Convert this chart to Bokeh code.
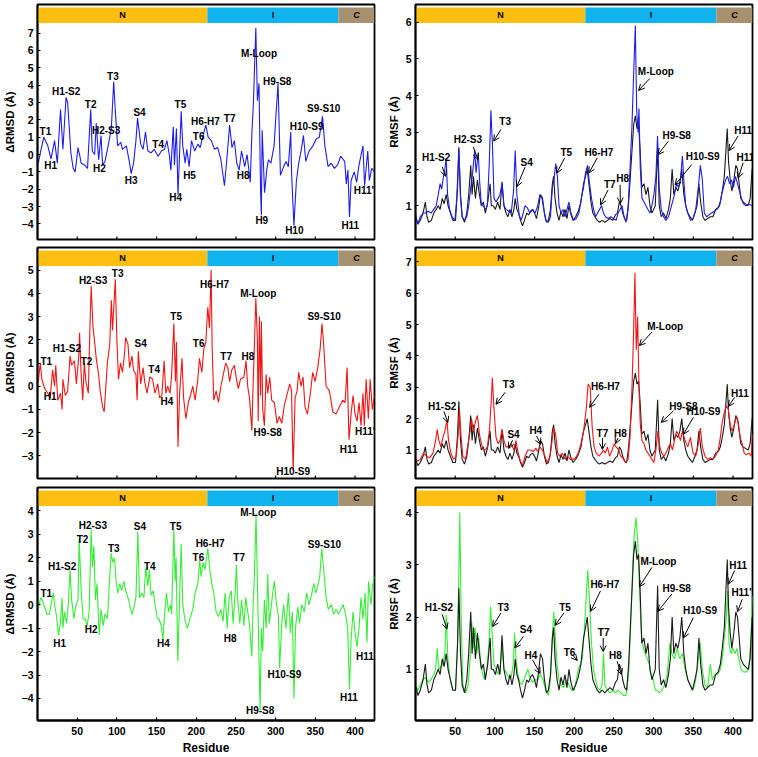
from bokeh.plotting import figure
from bokeh.layouts import column, row
from bokeh.models import Range1d, FixedTicker, Arrow, OpenHead, ColumnDataSource
from bokeh.embed import file_html
from bokeh.resources import INLINE
from bokeh.core.properties import value

FONT = "Liberation Sans"

# ---------------- data ----------------
x_ticks = [50, 100, 150, 200, 250, 300, 350, 400]
residue_range = [0, 424.5]

domain_names = ["N", "I", "C"]
domain_start = [0, 214, 379]
domain_end = [214, 379, 424.5]
domain_colors = ["#FDBE12", "#10B3EE", "#A8916F"]

drmsd_blue = [(1,-0.5),(4,0.2),(8,1.0),(13,0.5),(17,-0.25),(21.5,0.8),(25,-0.5),(29,2.6),(32,0.3),(36,3.3),(38,3.0),(42,0.1),(45,-0.8),(47.5,-1.0),(51,0.4),(53,0.0),(55,-0.5),(59,-0.6),(63,-0.8),(67,2.6),(69,0.2),(72,0.0),(74,1.8),(77,-0.3),(80,1.1),(82,-0.6),(85,-0.4),(89,0.5),(93,1.5),(96,4.2),(98,2.5),(101,0.5),(105,0.7),(107,0.3),(112,0.5),(116,-0.5),(118,-1.1),(121,-0.5),(124,0.8),(126,2.1),(130,0.6),(133,0.3),(136,1.3),(139,0.2),(143,0.1),(147,0.3),(152,-0.1),(156,0.2),(160,0.3),(163,0.8),(166,0.0),(168,-0.9),(171,1.6),(172.5,-0.6),(175,1.5),(177,-2.3),(178.5,-0.5),(181,2.5),(183,0.5),(186,-0.5),(188,0.3),(191,-0.7),(194,0.8),(198,0.2),(202,0.6),(205,0.4),(208,1.0),(212,1.7),(215,1.0),(219,0.8),(223,0.3),(227,0.4),(231,-0.3),(235.5,-1.8),(239,0.0),(242,1.7),(245,0.4),(248,0.8),(251,-0.5),(254,-0.9),(257,0.2),(261,-0.7),(264,0.0),(268,-1.6),(270,1.2),(272,3.0),(275,7.3),(277,3.1),(279,4.1),(281,-2.1),(282,-3.5),(283,1.4),(286,-2.2),(289,-0.8),(291,-0.3),(294,-0.5),(298,0.5),(300,2.0),(303,4.1),(306,-1.2),(310,-0.7),(313,-0.4),(316,-0.7),(319,1.3),(320,-1.0),(323,-4.1),(326,-1.6),(329,-0.5),(332,0.2),(335,1.1),(338,-0.4),(342,0.2),(347,0.5),(351,0.9),(355,1.0),(359,2.2),(362,0.5),(366,-0.7),(370,-0.5),(374,-0.8),(378,-0.6),(382,-0.1),(387,-0.4),(389,-1.7),(391,-0.9),(393,-3.6),(395,-1.5),(399,-1.0),(402,-1.6),(405,-0.6),(410,0.5),(412,-1.8),(416,0.2),(418,-1.5),(421,-0.8),(424.5,-1.0)]

drmsd_red = [(1,0.2),(3.5,1.0),(5.5,0.3),(9,-0.1),(13,-0.3),(16,-0.5),(19,0.7),(21.5,0.0),(23,0.9),(25.5,-0.6),(29,-0.3),(31,-1.0),(32,0.3),(35,-0.4),(38,-0.2),(41,1.3),(43,0.9),(46.5,1.1),(49,0.1),(52,1.3),(53,2.3),(55,0.5),(57,-0.6),(59,1.0),(61,0.2),(64,-0.3),(66,2.5),(67.6,4.3),(70,2.5),(72,1.9),(74,1.2),(77,0.5),(79,-0.2),(82,-0.9),(84,-1.1),(85,-0.6),(88,1.0),(91,1.8),(93,3.7),(94.5,2.4),(98,4.6),(100,2.0),(102,0.3),(104.5,1.0),(107,0.6),(109.6,1.4),(111,2.1),(114,1.8),(116,0.8),(119,1.3),(121,0.7),(124,0.5),(125.5,-0.6),(127,1.5),(130,0.1),(133,0.8),(135,0.2),(138,-0.3),(141.5,0.4),(145,0.3),(148,-0.3),(151.5,0.1),(153.7,-0.5),(156.6,-0.4),(159.5,1.1),(161.6,-0.3),(164,0.0),(167,-0.3),(169,0.5),(171.7,2.7),(173.8,0.2),(175,1.9),(177,-2.6),(179,-0.3),(182,1.2),(184,-0.5),(187,-1.4),(190,-0.7),(192.7,-0.4),(195.6,0.0),(198.5,-0.6),(202,0.3),(204,1.2),(207,0.6),(209.5,1.6),(212,1.9),(214.5,3.4),(216.6,2.5),(218.7,5.0),(220,1.7),(222,-0.6),(225,-0.2),(228,-0.7),(231,0.0),(234.6,0.6),(237,1.0),(239.7,0.8),(242,0.2),(244.7,0.7),(248,0.9),(250.6,0.3),(253,-0.1),(255.6,0.3),(260,0.4),(262.7,1.1),(264.8,0.0),(267,-0.5),(270,-1.9),(271.6,0.1),(273,1.5),(275,3.8),(277,2.0),(278,-1.5),(279.5,3.0),(281,-0.4),(282,2.8),(283.7,-1.0),(285.8,-1.7),(288,0.5),(290,-0.3),(292.5,0.4),(295,-0.6),(298.4,-0.7),(301.8,-1.6),(304.7,-1.3),(307.7,-1.6),(311,-0.8),(314,-0.4),(317.7,0.1),(320,-0.2),(322,-3.6),(324.5,-0.5),(327,-0.2),(329,0.6),(332,0.0),(334.5,0.4),(337,-0.9),(340,-1.2),(343.7,-0.3),(346.7,0.6),(349.6,0.2),(353,0.8),(356,1.6),(358.4,2.7),(360.5,1.8),(363.5,0.0),(367.7,-0.2),(372,-1.1),(376,-1.2),(380,-0.9),(384.5,-0.6),(387.4,-0.7),(390,0.8),(392.4,-2.3),(395,-1.2),(397.5,-0.4),(400,-1.2),(402.5,-1.5),(405,-0.7),(407.5,-1.7),(410,-0.3),(411.7,-1.7),(414,0.3),(416.8,-1.4),(419,0.3),(421.8,-1.0),(424.5,-0.4)]

drmsd_green = [(1,-0.2),(4,0.3),(6,0.2),(9,-0.1),(12,-0.4),(15,-0.4),(17,0.0),(20,0.5),(21.5,0.0),(24,-0.5),(26.5,-1.3),(29,-0.7),(31,0.3),(32,-1.0),(34,-0.3),(36.6,-0.8),(39,0.1),(41,1.5),(43,0.2),(46,-0.6),(48,-0.1),(51,0.2),(52.5,2.8),(55,0.6),(57.5,-0.6),(60,-0.6),(62.6,-0.9),(65,-0.3),(67.6,3.2),(69.3,1.6),(71,2.5),(73,0.2),(75,0.9),(77.7,-1.3),(80,-0.2),(82.7,-0.9),(85,-0.4),(88,-0.6),(90,0.6),(92.8,2.2),(95,1.8),(97,2.0),(99,1.0),(101,0.5),(103.7,0.9),(106,0.6),(108.7,1.0),(111,0.6),(114,0.3),(116,0.0),(119,-0.4),(121,-0.2),(124,0.3),(126.4,3.1),(128.5,0.3),(131.4,0.5),(134,0.3),(136.4,1.6),(139,0.8),(141,1.5),(143,0.4),(145.7,0.6),(148,0.0),(151,-0.6),(153,-0.6),(156,-0.9),(158,-1.5),(160,-0.4),(162.5,0.5),(165,-0.3),(167.5,0.0),(169,-0.4),(171.7,3.2),(173.4,1.0),(174.6,2.0),(176.7,-2.4),(178.8,0.0),(181,2.6),(183,0.0),(186,-0.7),(189,-1.0),(192.7,-0.5),(195.6,-0.2),(198.5,0.5),(202,0.9),(204.4,1.9),(206,1.2),(208.6,1.8),(211,1.5),(214.5,2.4),(217,1.5),(219.5,0.9),(222,0.5),(225,-0.3),(228,-0.5),(231,-0.2),(233.8,-0.7),(236.3,0.5),(239,-1.0),(241.4,0.3),(244,0.6),(246.4,-0.8),(249,0.5),(250.6,1.7),(252,0.3),(254.8,-0.8),(257,0.2),(260,-0.9),(262.3,0.3),(264.8,-0.3),(267,-0.8),(270,-2.2),(271.6,0.0),(273,1.0),(275.3,3.8),(277,1.0),(278.7,-1.8),(280.4,-4.5),(282,-1.0),(283.7,-2.0),(285.8,0.2),(288,-1.0),(290,1.3),(292,-0.8),(294,-0.2),(296.3,0.5),(298.4,1.0),(301,0.0),(303.5,-0.5),(305,-2.7),(307.7,-0.8),(310,0.0),(313,-1.0),(316,0.5),(318.6,-1.2),(321,-0.3),(323,-4.0),(325,-1.0),(327.8,-0.1),(330,-0.8),(333,0.0),(336,-0.3),(339,0.5),(342,0.0),(345,0.4),(348,0.9),(350.5,0.5),(353,0.8),(355.5,1.2),(358,2.4),(360.5,1.5),(363.5,0.3),(366.4,-0.2),(370,0.0),(373,-0.4),(376,-0.2),(379,-0.4),(382,-0.2),(385,0.0),(388,-0.4),(390.7,-1.0),(393,-3.6),(395,-1.5),(397.5,-0.3),(400,-1.2),(402.5,-1.8),(405,-1.0),(407.5,0.3),(410,-0.6),(412.6,0.5),(415,-1.6),(417,1.0),(420,0.0),(422,0.8),(424.5,1.2)]

rmsf_ref = [(0,0.7),(3,0.5),(6,0.6),(9.5,0.8),(12.4,1.1),(14.5,0.7),(16.6,0.55),(20,0.6),(23,0.8),(26,0.9),(28.7,1.0),(31,0.9),(33.7,1.2),(36,1.05),(38.7,1.3),(41,1.0),(44,0.8),(47,0.6),(50.4,0.6),(53,1.5),(54.6,2.55),(56.7,1.3),(58.8,0.7),(61.7,0.55),(64.6,0.8),(67,1.3),(69.6,2.1),(71.3,1.3),(73,1.8),(75.5,1.2),(78,1.7),(80.5,1.3),(83,1.0),(85.5,1.1),(88,0.8),(91,1.1),(94,1.6),(95.5,1.0),(98,1.0),(100.6,0.9),(103.5,1.1),(106.4,0.9),(109,1.65),(111.4,1.0),(114,0.8),(116.4,0.7),(119,0.9),(121.5,0.7),(124,0.9),(125.6,1.2),(127.7,0.9),(129.8,0.8),(132.3,0.6),(134.8,0.45),(137.3,0.6),(140,0.8),(142.4,0.75),(144.9,0.85),(147.4,0.9),(150,0.8),(152.4,0.65),(155,0.95),(157.4,1.3),(160,1.2),(162.4,0.8),(165,0.55),(167.4,0.6),(170,0.9),(172.4,1.6),(174,1.8),(175.8,1.2),(178.3,0.8),(180.8,0.6),(183.3,0.85),(185.8,0.7),(188.3,0.9),(190.8,0.65),(193.3,1.0),(195.8,0.75),(198.4,0.6),(201.7,0.7),(205,0.85),(208.4,1.1),(211.7,1.6),(214.2,1.8),(216.3,2.0),(218.4,1.6),(221,1.1),(223.4,0.8),(226,0.7),(229,0.6),(231.8,0.55),(235,0.6),(238.5,0.55),(241.8,0.6),(245,0.65),(248.5,0.6),(251.8,0.75),(254.3,0.8),(256.8,1.1),(259,1.0),(261,0.8),(263.5,0.65),(266,0.6),(268.5,1.1),(270.6,1.8),(272.7,2.5),(274.8,3.2),(276.9,3.45),(279,3.1),(281,3.2),(283,2.5),(285,1.5),(287.8,1.6),(290.3,1.3),(292.8,1.5),(295.3,1.0),(297.8,0.8),(299.9,0.9),(302,1.0),(305,2.6),(307,1.0),(309.5,0.7),(312.4,0.8),(315.4,0.65),(318.7,0.9),(321,1.2),(323.3,2.0),(325.4,1.3),(327.9,1.5),(330.4,1.4),(333,1.6),(335.4,2.0),(338,1.3),(340.4,1.0),(343,0.8),(345.9,0.7),(348.8,0.6),(352,0.8),(354.6,1.0),(357,1.6),(359.2,1.1),(362,0.7),(364.7,0.6),(368,0.65),(371.4,0.7),(374.7,0.7),(378,0.9),(381.4,0.95),(384,1.1),(386.4,1.4),(389,1.8),(391,2.5),(392.7,3.1),(394.3,2.2),(396.4,1.7),(398.5,1.4),(401,1.7),(403.5,2.1),(405.6,2.0),(407.7,1.6),(409.8,1.2),(412.7,1.1),(415.6,1.05),(419,1.0),(421.5,1.2),(424,2.0)]

rmsf_blue = [(0,0.75),(3,0.5),(6,0.7),(9.5,0.8),(12.8,0.8),(16,0.85),(19.5,0.8),(23,0.9),(26,1.0),(28.7,1.3),(31,1.6),(33,1.45),(34.5,1.7),(37,2.0),(38.7,2.3),(40.4,1.3),(43,0.9),(46,0.7),(49.6,0.6),(52,1.2),(54.6,2.6),(56.7,1.2),(58.8,0.7),(61.7,0.6),(64.6,0.7),(67,1.0),(69.6,1.5),(72,1.9),(74.6,2.5),(76.3,1.9),(79,2.45),(81,1.6),(83,1.0),(85.5,1.0),(88,0.9),(90.5,1.0),(93,2.2),(95,3.6),(97,2.6),(98.9,1.2),(101.4,1.1),(104,1.2),(106.4,1.3),(109,1.6),(111.4,1.0),(114,0.9),(117.3,0.85),(120.6,0.8),(123.5,1.4),(125.6,2.5),(127.7,1.3),(130.6,0.75),(133,0.6),(135.7,0.8),(138,1.0),(140.7,0.95),(144,0.8),(147.4,0.9),(150.7,0.8),(154,1.0),(156.6,1.3),(159,1.25),(161.6,0.9),(164,0.6),(167.4,0.55),(170,0.7),(172.4,1.5),(174.5,1.7),(176.6,2.15),(178.7,1.8),(180.8,1.0),(183.3,0.8),(185.8,0.9),(188.3,0.7),(190.8,0.9),(193.3,1.1),(195.8,0.8),(199.2,0.6),(202.5,0.65),(205.9,0.8),(208.8,1.2),(211.7,1.5),(214.2,1.9),(216.7,2.1),(219.2,1.6),(221.7,1.2),(224.3,0.9),(226.8,0.7),(229.3,0.8),(231.8,0.9),(234.3,1.0),(236.8,0.8),(239.3,0.7),(242.6,0.65),(246,0.7),(249.3,0.65),(252.7,0.6),(255.2,0.8),(257.7,0.9),(260.2,1.0),(262.7,0.7),(265.2,0.55),(267.7,0.9),(270.2,2.0),(272.7,3.2),(274.8,4.6),(276.9,5.9),(278.6,3.6),(280.3,3.0),(281.5,3.65),(283.2,2.0),(285.3,1.2),(287.8,1.1),(290.3,1.0),(292.8,0.9),(295.3,0.8),(297.8,1.0),(300.3,1.3),(302.8,1.8),(304.9,2.9),(307,1.5),(309.5,0.9),(312.4,0.7),(315.4,0.6),(318.7,0.7),(321.2,0.9),(323.7,1.1),(326.2,1.3),(328.7,1.6),(331.2,1.5),(333.7,1.7),(336.2,2.35),(338.3,1.6),(340.4,1.0),(343,0.8),(346.3,0.6),(349.6,0.65),(353,0.9),(356.3,1.5),(358.8,2.1),(361.3,1.7),(363.8,0.8),(366.7,0.7),(369.7,0.75),(373,0.8),(376.4,0.85),(379.7,0.9),(383,1.0),(385.6,1.3),(388,1.5),(390.6,1.7),(393,1.8),(395.6,1.6),(398,1.7),(400.6,1.5),(403,1.8),(405.6,1.6),(408,1.4),(410.6,1.2),(413,1.05),(416.5,1.0),(419.8,1.05),(424,1.0)]

rmsf_red = [(0,0.7),(3,0.65),(6,0.7),(10.3,0.9),(13.6,0.8),(17.8,0.75),(22,0.9),(25.3,1.3),(27.4,1.65),(29.5,1.3),(32,1.1),(34.5,1.4),(37,1.6),(39.6,1.95),(41.6,1.3),(44.6,0.9),(47.9,0.7),(51.3,0.8),(53.8,1.5),(55.4,2.3),(57.5,1.4),(59.6,0.8),(63,0.7),(66.3,1.2),(68.8,1.6),(70.5,2.0),(73,1.6),(75.5,1.9),(78,2.1),(80.5,1.5),(83,1.2),(85.5,1.0),(88,1.0),(90.5,1.1),(93,1.6),(95.5,2.6),(96.8,3.3),(98.9,2.3),(101.4,1.4),(104,1.2),(106.4,1.3),(109,1.65),(111.4,1.3),(114,1.1),(117.3,1.1),(120.6,1.2),(124,1.0),(126.5,1.3),(129,0.95),(131.5,0.7),(134.8,0.5),(138,0.8),(141.5,1.0),(144.9,1.0),(148.2,0.95),(151.5,1.05),(154,0.95),(156.6,1.1),(160,1.0),(163,0.8),(165.8,0.6),(169,0.75),(171.6,1.2),(174,1.7),(176.6,1.5),(179,0.9),(181.6,0.8),(185,0.9),(188.3,0.7),(191.7,0.8),(195,0.7),(198.4,0.7),(201.7,0.75),(205,0.9),(208.4,1.2),(211.7,1.6),(215,2.3),(217.5,3.1),(220,3.0),(222.6,1.7),(225,1.1),(227.6,0.9),(231,0.8),(234.3,0.9),(236.8,1.0),(239.3,0.9),(241.8,1.1),(244.4,0.8),(247.7,1.0),(250.2,1.2),(252.7,1.1),(256,1.0),(258.5,0.8),(261,0.75),(264.4,0.6),(267.7,0.7),(270.2,1.4),(272.7,3.0),(274.8,4.8),(276.4,6.65),(278.1,4.2),(279.8,5.25),(281.5,3.0),(283.2,1.8),(285.3,1.3),(287.8,1.2),(290.3,1.0),(292.8,0.9),(295.3,0.8),(297.8,0.7),(300.3,0.6),(302.8,1.0),(305.3,1.6),(307.8,1.1),(310.3,0.9),(312.8,0.8),(315.4,0.9),(318.7,1.1),(321.2,1.2),(323.7,1.0),(326.2,1.3),(328.7,1.6),(331.2,1.5),(333.7,1.3),(336.2,1.6),(339.6,1.3),(343,1.1),(346.3,1.4),(349.6,0.9),(353,0.8),(356.3,1.2),(358.8,1.7),(361.3,1.1),(364.7,0.8),(368,0.7),(371.4,0.75),(374.7,0.7),(378,0.8),(381.4,1.0),(384,1.4),(386.4,1.9),(389,2.2),(391.5,2.4),(394,2.3),(396.4,1.8),(399,1.6),(401.5,1.8),(404,2.05),(406.4,1.9),(409,1.4),(411.5,1.2),(414,0.9),(416.5,0.85),(419.8,0.9),(423,0.8),(424.5,1.5)]

rmsf_green = [(0,0.7),(3,0.6),(6,0.7),(9.5,0.8),(12.8,0.85),(16,0.75),(19.5,0.8),(23,0.9),(25.3,1.0),(27.4,1.4),(29.5,1.0),(32,1.05),(34.5,1.1),(37,1.3),(38.7,2.05),(40.8,1.2),(43.7,0.8),(47,0.6),(50.4,0.6),(53,1.5),(54.6,2.8),(55.8,4.0),(57.5,2.0),(59.6,0.7),(63,0.55),(66.3,0.7),(68.8,1.2),(70.9,1.9),(73,1.4),(75,1.8),(77.2,1.3),(79.7,1.6),(82.2,1.1),(84.7,0.9),(87.2,0.8),(89.7,1.0),(92.2,1.4),(94.7,2.2),(96.4,1.7),(98.9,1.1),(101.4,1.0),(104,0.9),(106.4,1.0),(109,1.4),(111.4,1.0),(114,0.95),(117.3,0.85),(120.6,0.85),(123.1,1.1),(124.8,1.7),(126.5,1.2),(129,0.9),(131.5,0.75),(134,0.7),(136.5,0.8),(139,0.9),(141.5,1.0),(144,0.85),(147.4,0.75),(150.7,0.8),(154,0.8),(157.4,0.9),(160.7,0.8),(164,0.6),(167.4,0.5),(170,0.8),(172,1.5),(174.1,2.1),(176.2,1.6),(178.3,1.1),(180.8,0.8),(183.3,0.7),(186.6,0.65),(190,0.8),(193.3,0.7),(196.7,0.6),(200,0.6),(202.5,0.8),(205,1.0),(207.5,1.1),(210,1.2),(212.5,1.7),(215,2.4),(217,2.9),(219.2,2.3),(221.7,1.5),(224.3,1.0),(226.8,0.8),(229.3,0.65),(232.6,0.6),(235,0.7),(236.9,1.3),(238.5,0.7),(241.8,0.6),(245,0.55),(248.5,0.6),(251.8,0.55),(255.2,0.6),(258.5,0.55),(261.8,0.5),(265.2,0.5),(268.5,0.9),(271,1.8),(273.6,3.0),(275.7,3.6),(277.8,3.9),(279.8,3.5),(282,2.6),(284.4,1.7),(287,1.4),(289.5,1.3),(292,1.2),(294.5,1.1),(297,0.9),(299.5,0.8),(302,0.6),(304.5,0.6),(307,0.55),(310.3,0.6),(313.7,0.7),(317,0.9),(320.4,1.5),(322.9,1.3),(326.2,1.2),(329.6,1.4),(333,1.2),(336.2,1.3),(339.6,1.0),(343,0.8),(346.3,0.7),(349.6,0.6),(353,0.8),(356.3,1.2),(358.8,1.5),(361.3,1.0),(364.7,0.7),(368,0.65),(371.4,1.1),(373.9,0.8),(377.2,0.9),(380.6,0.9),(384,1.0),(386.4,1.2),(389,1.6),(391.5,2.0),(393.2,2.5),(394.9,1.5),(397.4,1.3),(399.9,1.4),(402.4,1.3),(404.9,1.4),(407.4,1.2),(410,1.0),(413.3,0.95),(416.7,0.95),(420,1.0),(422.5,1.6),(424.5,2.4)]

# labels of the ΔRMSD panels: (text, residue, value)
labels_drmsd_blue = [("T1",10,1.35),("H1",16.5,-0.65),("H1-S2",36,3.65),("T2",67,2.9),("H2-S3",86.5,1.4),("H2",78,-0.8),("T3",95,4.5),("S4",128.5,2.4),("H3",118,-1.5),("T4",152,0.6),("T5",180,2.9),("H4",174,-2.5),("H5",191.5,-1.2),("T6",203,1.05),("H6-H7",211.5,1.9),("T7",242,2.1),("H8",259,-1.2),("M-Loop",279,5.8),("H9",282.5,-3.8),("H9-S8",302,4.2),("H10-S9",339,1.6),("H10",323.5,-4.4),("S9-S10",360.5,2.65),("H11",394,-4.1),("H11'",411,-2.1)]
labels_drmsd_red = [("T1",11,1.07),("H1",16,-0.43),("H1-S2",37,1.64),("T2",61.7,1.07),("H2-S3",70,4.53),("T3",101,4.86),("S4",130,1.86),("T4",147,0.71),("H4",163,-0.66),("T5",174.6,3.0),("T6",203,1.86),("H6-H7",223,4.37),("T7",237.6,1.29),("H8",265,1.29),("M-Loop",278,3.97),("H9-S8",290,-2.0),("H10-S9",322,-3.69),("S9-S10",361,3.0),("H11",392,-2.74),("H11'",412.6,-1.96)]
labels_drmsd_green = [("T1",11,0.46),("H1",27.8,-1.66),("H1-S2",31,1.63),("T2",56.7,2.77),("H2",67.6,-1.04),("H2-S3",69.7,3.39),("T3",96,2.41),("S4",129,3.34),("T4",141.5,1.63),("H4",158.7,-1.66),("T5",174,3.34),("T6",202.7,2.0),("H6-H7",217.4,2.6),("T7",254,2.0),("H8",242.6,-1.43),("M-Loop",278,3.93),("H9-S8",280.4,-4.51),("H10-S9",311,-2.97),("S9-S10",361.4,2.57),("H11",392.4,-3.94),("H11'",414,-2.19)]

# labels of the RMSF panels: (text, text_res, text_val, tail_res, tail_val, head_res, head_val)
labels_rmsf_blue = [("H1-S2",26,2.3,33.7,2.06,37.9,1.8),("H2-S3",66,2.8,73,2.6,78.4,2.26),("T3",113,3.3,107.7,3.08,98.5,2.76),("S4",140,2.17,138,2.05,127.7,1.52),("T5",190,2.44,187.9,2.3,177.9,1.89),("H6-H7",231,2.44,228.9,2.3,218.4,1.89),("T7",244.7,1.57,242.6,1.43,233,1.02),("H8",261,1.75,257.7,1.57,258,1.06),("M-Loop",302.8,4.66,294.9,4.46,281,4.14),("H9-S8",329,2.92,318.7,2.76,305.3,2.39),("H10-S9",361.7,2.33,348,2.12,327,1.57),("H11",412.7,3.06,406.4,2.9,394.8,2.5),("H11'",417,2.32,412.7,2.17,406.4,1.75)]
labels_rmsf_red = [("H1-S2",33.7,2.39,35.8,2.23,40.8,1.88),("T3",117.3,3.08,113,2.84,101.4,2.46),("S4",123.5,1.5,122.3,1.31,117.3,1.05),("H4",151.5,1.63,152.4,1.45,157.8,1.18),("H6-H7",239.3,3.02,231,2.78,219.2,2.36),("T7",235.5,1.52,235.5,1.38,235.5,1.02),("H8",258,1.52,255,1.38,251.8,1.2),("M-Loop",314.5,4.95,297.8,4.76,282,4.33),("H9-S8",337.5,2.39,325,2.25,309.5,1.88),("H10-S9",362.6,2.23,350,2.04,337.5,1.5),("H11",408.5,2.8,402,2.68,394,2.39)]
labels_rmsf_green = [("H1-S2",29.5,2.19,33.7,2.05,39.6,1.77),("T3",110.6,2.19,107.7,2.08,97.2,1.82),("S4",139,1.76,136,1.63,125.2,1.41),("H4",145.3,1.26,147.4,1.18,157,0.92),("T5",188.3,2.19,187,2.08,175.8,1.84),("T6",194,1.33,197.5,1.28,203.8,1.17),("H6-H7",238.5,2.63,233,2.5,220.5,2.11),("T7",237,1.7,236.4,1.6,236.4,1.34),("H8",251.8,1.26,254,1.15,259.4,0.9),("M-Loop",306,3.06,297.8,2.95,282,2.58),("H9-S8",329,2.55,322.9,2.44,305.3,2.11),("H10-S9",358.4,2.13,350,1.99,337.5,1.6),("H11",406.4,2.98,402,2.89,394,2.63),("H11'",410.6,2.47,411.5,2.34,405.6,2.1)]

yticks_1 = [-4, -3, -2, -1, 0, 1, 2, 3, 4, 5, 6, 7]
yticks_2 = [-3, -2, -1, 0, 1, 2, 3, 4, 5]
yticks_3 = [-4, -3, -2, -1, 0, 1, 2, 3, 4]
yticks_4 = [1, 2, 3, 4, 5, 6]
yticks_5 = [1, 2, 3, 4, 5, 6, 7]
yticks_6 = [1, 2, 3, 4]

yrange_1 = [-4.9, 8.65]
yrange_2 = [-3.97, 5.97]
yrange_3 = [-4.94, 5.0]
yrange_4 = [0.08, 6.48]
yrange_5 = [0.09, 7.46]
yrange_6 = [0.02, 4.48]

BLUE = "#1E1EE6"
RED = "#F01414"
GREEN = "#33EE33"
BLACK = "#1A1A1A"


def unzip(pairs):
    return [a for a, _ in pairs], [b for _, b in pairs]


def make_panel(width, height, bl, br, bt, bb, yr, yticks, ylabel, bottom, c_italic=True):
    p = figure(width=width, height=height, x_range=Range1d(*residue_range),
               y_range=Range1d(*yr), output_backend="svg", toolbar_location=None,
               min_border_left=bl, min_border_right=br, min_border_top=bt,
               min_border_bottom=bb)
    p.background_fill_color = "white"
    p.border_fill_color = "white"
    p.outline_line_color = "black"
    p.outline_line_width = 1.8
    p.xgrid.visible = False
    p.ygrid.visible = False
    for ax in (p.xaxis[0], p.yaxis[0]):
        ax.axis_line_width = 1.8
        ax.major_tick_in = 3
        ax.major_tick_out = 0
        ax.major_tick_line_width = 1.2
        ax.minor_tick_line_color = None
        ax.major_label_text_font = FONT
        ax.major_label_text_font_style = "bold"
        ax.major_label_text_font_size = "10.5px"
        ax.major_label_text_color = "black"
        ax.axis_label_text_font = FONT
        ax.axis_label_text_font_style = "bold"
        ax.axis_label_text_color = "black"
    p.yaxis.major_label_standoff = 4
    p.yaxis.axis_label_standoff = 3
    p.yaxis.ticker = FixedTicker(ticks=yticks)
    p.yaxis.major_label_overrides = {t: str(t).replace("-", "\u2212") for t in yticks}
    p.yaxis.axis_label = ylabel
    p.yaxis.axis_label_text_font_size = "11.5px"

    frame_h = height - bt - bb
    span = yr[1] - yr[0]
    if bottom:
        p.xaxis.ticker = FixedTicker(ticks=x_ticks)
        p.xaxis.axis_label = "Residue"
        p.xaxis.axis_label_text_font_size = "12px"
        p.xaxis.major_label_standoff = 6
        p.xaxis.axis_label_standoff = 3
    else:
        # x axis without labels: inward ticks only
        p.xaxis.visible = False
        tick_len = 3.0 / frame_h * span
        p.segment(x0=x_ticks, x1=x_ticks, y0=yr[0], y1=yr[0] + tick_len,
                  line_color="black", line_width=1.2)

    bar_top = yr[1] - 3.0 / frame_h * span
    bar_bot = yr[1] - 18.5 / frame_h * span
    p.quad(left=domain_start, right=domain_end, top=bar_top, bottom=bar_bot,
           fill_color=domain_colors, line_color=None)
    mids = [(s + e) / 2 for s, e in zip(domain_start, domain_end)]
    p.text(x=mids[:2], y=[(bar_top + bar_bot) / 2] * 2, text=domain_names[:2],
           text_font=value(FONT), text_font_style="bold", text_font_size="9px",
           text_align="center", text_baseline="middle", text_color="black")
    p.text(x=[mids[2]], y=[(bar_top + bar_bot) / 2], text=[domain_names[2]],
           text_font=value(FONT), text_font_style="bold italic" if c_italic else "bold",
           text_font_size="9px", text_align="center", text_baseline="middle",
           text_color="black")
    return p


def add_labels(p, labels):
    p.text(x=[l[1] for l in labels], y=[l[2] for l in labels], text=[l[0] for l in labels],
           text_font=value(FONT), text_font_style="bold", text_font_size="10px",
           text_align="center", text_baseline="middle", text_color="black")


def add_arrow_labels(p, labels):
    add_labels(p, labels)
    src = ColumnDataSource(dict(x0=[l[3] for l in labels], y0=[l[4] for l in labels],
                                x1=[l[5] for l in labels], y1=[l[6] for l in labels]))
    p.add_layout(Arrow(end=OpenHead(size=6, line_width=1, line_color="black"),
                       x_start="x0", y_start="y0", x_end="x1", y_end="y1",
                       source=src, line_width=1, line_color="black"))


# widths: left column frame 36..374, right column frame 412..752
LW, LBL, LBR = 384, 36, 10
RW, RBL, RBR = 374, 28, 6

# row 1
p1 = make_panel(LW, 243, LBL, LBR, 4, 4, yrange_1, yticks_1, "\u0394RMSD (\u00c5)", False)
x, y = unzip(drmsd_blue)
p1.line(x, y, line_color=BLUE, line_width=1.1)
add_labels(p1, labels_drmsd_blue)

p2 = make_panel(RW, 243, RBL, RBR, 4, 4, yrange_4, yticks_4, "RMSF (\u00c5)", False)
x, y = unzip(rmsf_ref)
p2.line(x, y, line_color=BLACK, line_width=1.1)
x, y = unzip(rmsf_blue)
p2.line(x, y, line_color=BLUE, line_width=1.1)
add_arrow_labels(p2, labels_rmsf_blue)

# row 2
p3 = make_panel(LW, 240, LBL, LBR, 4, 5, yrange_2, yticks_2, "\u0394RMSD (\u00c5)", False)
x, y = unzip(drmsd_red)
p3.line(x, y, line_color=RED, line_width=1.1)
add_labels(p3, labels_drmsd_red)

p4 = make_panel(RW, 240, RBL, RBR, 4, 5, yrange_5, yticks_5, "RMSF (\u00c5)", False)
x, y = unzip(rmsf_ref)
p4.line(x, y, line_color=BLACK, line_width=1.1)
x, y = unzip(rmsf_red)
p4.line(x, y, line_color=RED, line_width=1.1)
add_arrow_labels(p4, labels_rmsf_red)

# row 3
p5 = make_panel(LW, 274, LBL, LBR, 4, 37, yrange_3, yticks_3, "\u0394RMSD (\u00c5)", True)
x, y = unzip(drmsd_green)
p5.line(x, y, line_color=GREEN, line_width=1.1)
add_labels(p5, labels_drmsd_green)

p6 = make_panel(RW, 274, RBL, RBR, 4, 37, yrange_6, yticks_6, "RMSF (\u00c5)", True, c_italic=False)
x, y = unzip(rmsf_green)
p6.line(x, y, line_color=GREEN, line_width=1.1)
x, y = unzip(rmsf_ref)
p6.line(x, y, line_color=BLACK, line_width=1.1)
add_arrow_labels(p6, labels_rmsf_green)

layout = column(row(p1, p2), row(p3, p4), row(p5, p6))

open("out.html", "w").write(file_html(layout, INLINE))
